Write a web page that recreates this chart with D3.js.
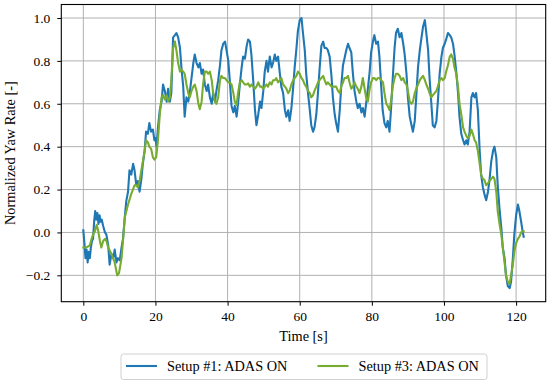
<!DOCTYPE html>
<html><head><meta charset="utf-8">
<script src="https://cdn.jsdelivr.net/npm/d3@7"></script>
<style>
html,body{margin:0;padding:0;background:#fff;}
svg{display:block;font-family:"Liberation Serif","Times New Roman",serif;}
</style></head>
<body><svg id="chart" width="550" height="383"></svg>
<script>
// ---- data ----
const seriesNames = ["Setup #1: ADAS ON", "Setup #3: ADAS ON"];
const seriesColors = ["#1f77b4", "#77ac30"];
const xTicks = [0, 20, 40, 60, 80, 100, 120];
const yTicks = [-0.2, 0.0, 0.2, 0.4, 0.6, 0.8, 1.0];
const xLabel = "Time [s]";
const yLabel = "Normalized Yaw Rate [-]";

// Setup #1 : [time, value]
const setup1 = [
[0,0.01],[0.3,-0.05],[0.6,-0.12],[0.9,-0.08],[1.2,-0.14],[1.5,-0.09],[1.8,-0.12],[2.1,-0.07],[2.4,-0.04],[2.7,-0.03],
[3.0,0.05],[3.3,0.10],[3.6,0.06],[3.9,0.09],[4.2,0.04],[4.5,0.08],[4.8,0.05],[5.1,0.06],[5.5,0.03],[6.0,0.0],
[6.4,-0.01],[6.9,-0.06],[7.3,-0.15],[7.8,-0.10],[8.3,-0.12],[8.7,-0.08],[9.2,-0.14],[9.6,-0.12],[10.1,-0.13],[10.6,-0.07],
[11.0,-0.03],[11.5,0.07],[11.9,0.145],[12.4,0.19],[12.8,0.29],[13.3,0.27],[13.8,0.32],[14.2,0.29],[14.7,0.22],[15.1,0.24],
[15.6,0.19],[16.1,0.25],[16.5,0.32],[17.0,0.38],[17.4,0.47],[17.9,0.46],[18.3,0.51],[18.8,0.47],[19.3,0.48],[19.7,0.43],
[20.0,0.44],[20.3,0.40],[20.7,0.49],[21.2,0.57],[21.7,0.61],[22.1,0.69],[22.6,0.66],[23.1,0.61],[23.5,0.67],[24.0,0.61],
[24.4,0.65],[24.9,0.91],[25.4,0.92],[25.8,0.93],[26.3,0.91],[26.8,0.86],[27.2,0.77],[27.7,0.68],[28.1,0.54],[28.6,0.63],
[29.1,0.61],[29.5,0.65],[30.0,0.72],[30.5,0.79],[30.9,0.83],[31.4,0.79],[31.9,0.77],[32.3,0.79],[32.8,0.74],[33.2,0.76],
[33.7,0.69],[34.2,0.66],[34.6,0.69],[35.1,0.63],[35.6,0.60],[36.0,0.65],[36.5,0.61],[36.9,0.66],[37.4,0.71],[37.9,0.78],
[38.3,0.85],[38.8,0.88],[39.3,0.89],[39.7,0.85],[40.2,0.80],[40.6,0.71],[41.1,0.59],[41.6,0.56],[42.0,0.59],[42.5,0.54],
[42.9,0.60],[43.4,0.69],[43.9,0.77],[44.3,0.82],[44.8,0.81],[45.3,0.87],[45.7,0.90],[46.2,0.89],[46.6,0.83],[47.1,0.71],
[47.6,0.57],[48.0,0.50],[48.5,0.55],[49.0,0.61],[49.4,0.58],[49.9,0.66],[50.3,0.75],[50.8,0.80],[51.2,0.75],[51.7,0.82],
[52.2,0.77],[52.6,0.79],[53.1,0.83],[53.5,0.80],[54.0,0.82],[54.5,0.74],[54.9,0.68],[55.4,0.65],[55.9,0.57],[56.3,0.54],
[56.8,0.57],[57.2,0.52],[57.7,0.58],[58.2,0.68],[58.6,0.77],[59.1,0.86],[59.5,0.94],[60.0,0.99],[60.5,1.00],[60.9,0.93],
[61.4,0.85],[61.8,0.74],[62.3,0.65],[62.8,0.57],[63.2,0.50],[63.7,0.47],[64.1,0.49],[64.6,0.55],[65.1,0.66],[65.5,0.76],
[66.0,0.87],[66.5,0.89],[66.9,0.86],[67.4,0.86],[67.8,0.85],[68.3,0.82],[68.8,0.73],[69.2,0.63],[69.7,0.55],[70.1,0.51],
[70.6,0.47],[71.1,0.57],[71.5,0.68],[72.0,0.78],[72.4,0.81],[72.9,0.85],[73.4,0.88],[73.8,0.86],[74.3,0.84],[74.7,0.75],
[75.2,0.66],[75.7,0.61],[76.1,0.58],[76.6,0.60],[77.1,0.56],[77.5,0.58],[78.0,0.54],[78.4,0.60],[78.9,0.67],[79.4,0.75],
[79.8,0.84],[80.3,0.89],[80.7,0.92],[81.2,0.88],[81.7,0.89],[82.1,0.82],[82.6,0.68],[83.0,0.57],[83.5,0.51],[84.0,0.49],
[84.4,0.52],[84.9,0.47],[85.3,0.57],[85.8,0.72],[86.3,0.86],[86.7,0.93],[87.2,0.95],[87.7,0.91],[88.2,0.93],[88.7,0.88],
[89.1,0.83],[89.6,0.74],[90.0,0.63],[90.5,0.54],[91.0,0.50],[91.4,0.47],[91.9,0.52],[92.3,0.63],[92.8,0.77],[93.3,0.85],
[93.7,0.90],[94.2,0.96],[94.7,0.99],[95.1,0.93],[95.6,0.85],[96.0,0.72],[96.5,0.60],[96.9,0.50],[97.4,0.49],[97.9,0.52],
[98.3,0.61],[98.8,0.74],[99.3,0.82],[99.7,0.86],[100.2,0.88],[100.6,0.90],[101.1,0.93],[101.6,0.92],[102.0,0.91],[102.5,0.88],
[102.9,0.83],[103.4,0.75],[103.9,0.65],[104.3,0.54],[104.8,0.46],[105.3,0.43],[105.7,0.41],[106.2,0.43],[106.6,0.41],[107.1,0.47],
[107.6,0.63],[108.0,0.65],[108.5,0.63],[108.9,0.65],[109.4,0.57],[109.9,0.38],[110.3,0.27],[110.8,0.21],[111.2,0.18],[111.7,0.15],
[112.2,0.19],[112.6,0.24],[113.1,0.33],[113.6,0.38],[114.0,0.40],[114.5,0.35],[114.9,0.22],[115.4,0.11],[115.9,0.02],[116.3,-0.07],
[116.8,-0.12],[117.2,-0.20],[117.7,-0.25],[118.2,-0.26],[118.6,-0.23],[119.1,-0.12],[119.5,-0.01],[120.0,0.08],[120.5,0.13],[120.9,0.10],
[121.4,0.05],[121.8,0.005],[122.1,-0.02]
];

// Setup #3 : [time, value]
const setup3 = [
[0,-0.07],[0.9,-0.07],[1.8,-0.06],[2.3,-0.03],[2.7,-0.01],[3.2,0.005],[3.7,0.035],[4.1,0.01],[4.6,-0.04],[5.0,-0.07],
[5.5,-0.04],[6.0,-0.03],[6.4,-0.04],[6.9,-0.07],[7.8,-0.10],[8.7,-0.14],[9.4,-0.20],[9.9,-0.19],[10.6,-0.12],[11.0,-0.04],
[11.5,0.07],[12.4,0.13],[13.3,0.18],[14.2,0.22],[14.7,0.22],[15.1,0.21],[15.6,0.24],[16.1,0.29],[16.5,0.33],[17.0,0.38],
[17.4,0.43],[17.9,0.42],[18.3,0.40],[18.8,0.39],[19.3,0.35],[19.7,0.34],[20.2,0.35],[20.7,0.43],[21.2,0.55],[21.7,0.63],
[22.1,0.64],[22.6,0.62],[23.1,0.64],[23.5,0.61],[24.0,0.63],[24.4,0.71],[24.9,0.86],[25.4,0.89],[25.8,0.85],[26.3,0.79],
[26.8,0.75],[27.2,0.76],[27.7,0.75],[28.1,0.74],[28.6,0.69],[29.1,0.65],[29.5,0.63],[30.0,0.66],[30.5,0.68],[30.9,0.69],
[31.4,0.66],[31.9,0.60],[32.3,0.575],[32.8,0.61],[33.2,0.69],[33.7,0.75],[34.2,0.75],[34.6,0.74],[35.1,0.75],[35.6,0.71],
[36.0,0.65],[36.5,0.61],[36.9,0.60],[37.4,0.63],[37.9,0.71],[38.3,0.73],[38.8,0.72],[39.3,0.72],[39.7,0.71],[40.2,0.70],
[40.6,0.70],[41.1,0.69],[41.6,0.65],[42.0,0.61],[42.5,0.595],[42.9,0.65],[43.4,0.70],[43.9,0.71],[44.3,0.70],[44.8,0.69],
[45.3,0.69],[45.7,0.695],[46.2,0.68],[46.6,0.69],[47.1,0.68],[47.6,0.67],[48.0,0.68],[48.5,0.70],[49.0,0.68],[49.4,0.68],
[49.9,0.67],[50.3,0.68],[50.8,0.69],[51.2,0.68],[51.7,0.70],[52.2,0.69],[52.6,0.71],[53.1,0.71],[53.5,0.72],[54.0,0.70],
[54.5,0.71],[54.9,0.72],[55.4,0.69],[55.9,0.68],[56.3,0.67],[56.8,0.65],[57.2,0.66],[57.7,0.69],[58.2,0.71],[58.6,0.72],
[59.1,0.73],[59.5,0.75],[60.0,0.74],[60.5,0.72],[60.9,0.71],[61.4,0.69],[61.8,0.68],[62.3,0.66],[62.8,0.65],[63.2,0.63],
[63.7,0.64],[64.1,0.66],[64.6,0.68],[65.1,0.70],[65.5,0.71],[66.0,0.72],[66.5,0.73],[66.9,0.71],[67.4,0.69],[67.8,0.70],
[68.3,0.69],[68.8,0.68],[69.2,0.68],[69.7,0.68],[70.1,0.68],[70.6,0.66],[71.1,0.65],[71.5,0.68],[72.0,0.70],[72.4,0.72],
[72.9,0.72],[73.4,0.73],[73.8,0.70],[74.3,0.67],[74.7,0.68],[75.2,0.70],[75.7,0.68],[76.1,0.67],[76.6,0.65],[77.1,0.68],
[77.5,0.72],[78.0,0.67],[78.4,0.63],[78.9,0.61],[79.4,0.67],[79.8,0.70],[80.3,0.72],[80.7,0.72],[81.2,0.71],[81.7,0.72],
[82.1,0.72],[82.6,0.71],[83.1,0.70],[83.5,0.65],[84.0,0.60],[84.4,0.59],[84.9,0.57],[85.3,0.61],[85.8,0.68],[86.3,0.72],
[86.7,0.74],[87.2,0.74],[87.7,0.73],[88.2,0.71],[88.7,0.72],[89.1,0.70],[89.6,0.69],[90.0,0.66],[90.5,0.61],[91.0,0.60],
[91.4,0.61],[91.9,0.65],[92.3,0.67],[92.8,0.69],[93.3,0.71],[93.7,0.72],[94.2,0.73],[94.7,0.71],[95.1,0.69],[95.6,0.67],
[96.0,0.65],[96.5,0.63],[96.9,0.64],[97.4,0.65],[97.9,0.66],[98.3,0.68],[98.8,0.71],[99.3,0.72],[99.7,0.71],[100.2,0.72],
[100.6,0.75],[101.1,0.78],[101.6,0.82],[102.0,0.83],[102.5,0.81],[102.9,0.77],[103.4,0.74],[103.9,0.68],[104.3,0.60],[104.8,0.55],
[105.3,0.49],[105.7,0.47],[106.2,0.45],[106.6,0.44],[107.1,0.45],[107.6,0.48],[108.0,0.46],[108.5,0.43],[108.9,0.42],[109.4,0.38],
[109.9,0.32],[110.3,0.27],[110.8,0.25],[111.2,0.245],[111.7,0.22],[112.2,0.23],[112.6,0.24],[113.1,0.25],[113.6,0.26],[114.0,0.25],
[114.5,0.19],[114.9,0.10],[115.4,0.04],[115.9,-0.01],[116.3,-0.07],[116.8,-0.14],[117.2,-0.20],[117.7,-0.23],[118.2,-0.24],[118.6,-0.20],
[119.1,-0.15],[119.5,-0.09],[120.0,-0.05],[120.5,-0.03],[120.9,-0.02],[121.4,0.0],[121.8,0.005],[122.1,0.005]
];

const allSeries = [setup1, setup3];

// ---- layout ----
const svg = d3.select("#chart");
svg.append("rect").attr("width",550).attr("height",383).attr("fill","#fff");
const L = 61.3, R = 545.7, T = 4.5, B = 301.7;
const tickFont = "13.5px", labelFont = "14.3px";

const allPts = allSeries.flat();
const xe = d3.extent(allPts, d => d[0]);
const ye = d3.extent(allPts, d => d[1]);
const xm = (xe[1]-xe[0])*0.05, ym = (ye[1]-ye[0])*0.05;
const x = d3.scaleLinear().domain([xe[0]-xm, xe[1]+xm]).range([L, R]);
const y = d3.scaleLinear().domain([ye[0]-ym, ye[1]+ym]).range([B, T]);

// grid
const grid = svg.append("g").attr("stroke","#b0b0b0").attr("stroke-width",1);
xTicks.forEach(t => grid.append("line").attr("x1",x(t)).attr("x2",x(t)).attr("y1",T).attr("y2",B));
yTicks.forEach(t => grid.append("line").attr("x1",L).attr("x2",R).attr("y1",y(t)).attr("y2",y(t)));

// clip
svg.append("clipPath").attr("id","clip").append("rect")
  .attr("x",L).attr("y",T).attr("width",R-L).attr("height",B-T);

const line = d3.line().x(d => x(d[0])).y(d => y(d[1]));
const lines = svg.append("g").attr("clip-path","url(#clip)");
allSeries.forEach((s,i) => {
  lines.append("path").datum(s).attr("d", line)
    .attr("fill","none").attr("stroke", seriesColors[i])
    .attr("stroke-width", 2.1).attr("stroke-linejoin","round").attr("stroke-linecap","square");
});

// axes
const fmtY = d3.format(".1f");
const xAxis = svg.append("g").attr("transform",`translate(0,${B})`)
  .call(d3.axisBottom(x).tickValues(xTicks).tickSize(4).tickPadding(6).tickFormat(d3.format("d")));
const yAxis = svg.append("g").attr("transform",`translate(${L},0)`)
  .call(d3.axisLeft(y).tickValues(yTicks).tickSize(4).tickPadding(7).tickFormat(fmtY));
[xAxis, yAxis].forEach(a => {
  a.select(".domain").remove();
  a.selectAll(".tick line").attr("stroke","#000").attr("stroke-width",1);
  a.selectAll("text").attr("font-family","Liberation Serif, serif").attr("font-size",tickFont).attr("fill","#000");
});

// frame
svg.append("rect").attr("x",L).attr("y",T).attr("width",R-L).attr("height",B-T)
  .attr("fill","none").attr("stroke","#000").attr("stroke-width",1.1);

// axis labels
svg.append("text").attr("x",(L+R)/2).attr("y",341).attr("text-anchor","middle")
  .attr("font-size",labelFont).attr("fill","#000").text(xLabel);
svg.append("text").attr("transform",`translate(14.5,${(T+B)/2}) rotate(-90)`)
  .attr("text-anchor","middle").attr("font-size",labelFont).attr("fill","#000").text(yLabel);

// legend
const lg = svg.append("g");
lg.append("rect").attr("x",121).attr("y",354).attr("width",366).attr("height",25.5)
  .attr("rx",2.5).attr("fill","#fff").attr("stroke","#d0d0d0").attr("stroke-width",1);
const legX = [126, 317.5];
seriesNames.forEach((n,i) => {
  lg.append("line").attr("x1",legX[i]).attr("x2",legX[i]+31).attr("y1",366).attr("y2",366)
    .attr("stroke",seriesColors[i]).attr("stroke-width",2.1);
  lg.append("text").attr("x",legX[i]+41).attr("y",371).attr("font-size",labelFont).attr("fill","#000").text(n);
});
</script></body></html>
